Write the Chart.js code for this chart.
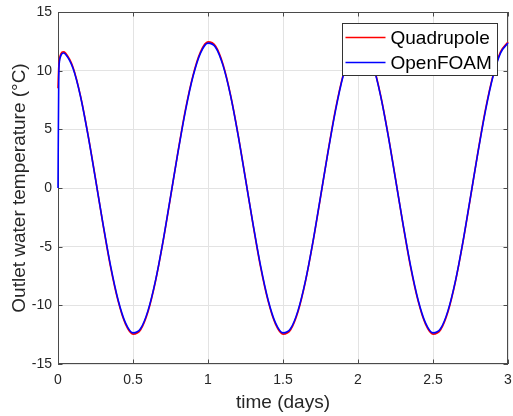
<!DOCTYPE html>
<html>
<head>
<meta charset="utf-8">
<script src="https://cdn.jsdelivr.net/npm/chart.js@4"></script>
<style>
  html, body { margin: 0; padding: 0; background: #fff; }
  canvas { display: block; }
</style>
</head>
<body>
<canvas id="chart" width="513" height="416"></canvas>
<script>
// dados
const timeDays = [0, 0.005, 0.01, 0.02, 0.035,
  0.05, 0.10, 0.15, 0.20, 0.25, 0.30, 0.35, 0.40, 0.45, 0.50,
  0.55, 0.60, 0.65, 0.70, 0.75, 0.80, 0.85, 0.90, 0.95, 1.00,
  1.05, 1.10, 1.15, 1.20, 1.25, 1.30, 1.35, 1.40, 1.45, 1.50,
  1.55, 1.60, 1.65, 1.70, 1.75, 1.80, 1.85, 1.90, 1.95, 2.00,
  2.05, 2.10, 2.15, 2.20, 2.25, 2.30, 2.35, 2.40, 2.45, 2.50,
  2.55, 2.60, 2.65, 2.70, 2.75, 2.80, 2.85, 2.90, 2.95, 3.00];

const quadrupole = [8.5, 10.3, 11.0, 11.45, 11.6,
  11.5, 10.3, 7.85, 4.55, 0.8, -3.1, -6.7, -9.6, -11.6, -12.45,
  -12.1, -10.55, -7.95, -4.6, -0.8, 3.1, 6.7, 9.6, 11.6, 12.45,
  12.1, 10.55, 7.95, 4.6, 0.8, -3.1, -6.7, -9.6, -11.6, -12.45,
  -12.1, -10.55, -7.95, -4.6, -0.8, 3.1, 6.7, 9.6, 11.6, 12.45,
  12.1, 10.55, 7.95, 4.6, 0.8, -3.1, -6.7, -9.6, -11.6, -12.45,
  -12.1, -10.55, -7.95, -4.6, -0.8, 3.1, 6.7, 9.6, 11.6, 12.45];

const openFoam = [0, 9.5, 10.8, 11.3, 11.5,
  11.4, 10.2, 7.8, 4.5, 0.75, -3.05, -6.6, -9.5, -11.5, -12.35,
  -12.0, -10.45, -7.9, -4.55, -0.75, 3.05, 6.6, 9.5, 11.5, 12.35,
  12.0, 10.45, 7.9, 4.55, 0.75, -3.05, -6.6, -9.5, -11.5, -12.35,
  -12.0, -10.45, -7.9, -4.55, -0.75, 3.05, 6.6, 9.5, 11.5, 12.35,
  12.0, 10.45, 7.9, 4.55, 0.75, -3.05, -6.6, -9.5, -11.5, -12.35,
  -12.0, -10.45, -7.9, -4.55, -0.75, 3.05, 6.6, 9.5, 11.5, 12.35];

const seriesNames = ['Quadrupole', 'OpenFOAM'];
const seriesColors = ['#ff0000', '#0000ff'];

const xTicks = [0, 0.5, 1, 1.5, 2, 2.5, 3];
const yTicks = [-15, -10, -5, 0, 5, 10, 15];

const axisColor = '#4a4a4a';
const textColor = '#262626';
const fontFamily = '"Liberation Sans", Arial, sans-serif';

function toPoints(values) {
  return values.map((v, i) => ({ x: timeDays[i], y: v }));
}

// caixa e ticks internos (antes das curvas) e legenda (depois)
const matlabFrame = {
  id: 'matlabFrame',
  beforeDatasetsDraw(chart) {
    const { ctx, chartArea: a, scales: { x, y } } = chart;
    ctx.save();
    ctx.strokeStyle = axisColor;
    ctx.lineWidth = 1;
    const tick = 4.5;
    ctx.beginPath();
    xTicks.forEach(v => {
      const px = Math.round(x.getPixelForValue(v)) + 0.5;
      ctx.moveTo(px, a.bottom); ctx.lineTo(px, a.bottom - tick);
      ctx.moveTo(px, a.top); ctx.lineTo(px, a.top + tick);
    });
    yTicks.forEach(v => {
      const py = Math.round(y.getPixelForValue(v)) + 0.5;
      ctx.moveTo(a.left, py); ctx.lineTo(a.left + tick, py);
      ctx.moveTo(a.right, py); ctx.lineTo(a.right - tick, py);
    });
    ctx.stroke();
    ctx.strokeRect(Math.round(a.left) + 0.5, Math.round(a.top) + 0.5,
      Math.round(a.right - a.left) - 1, Math.round(a.bottom - a.top) - 1);
    ctx.restore();
  },
  afterDatasetsDraw(chart) {
    const { ctx, chartArea: a } = chart;
    ctx.save();
    ctx.font = '19px ' + fontFamily;
    const textW = Math.max(...seriesNames.map(n => ctx.measureText(n).width));
    const lineLen = 40, gap = 5, padL = 3, padR = 6, rowH = 25;
    const w = Math.round(padL + lineLen + gap + textW + padR);
    const h = rowH * seriesNames.length + 2;
    const bx = Math.round(a.right - 11 - w) + 0.5;
    const by = Math.round(a.top + 11) + 0.5;
    ctx.fillStyle = '#fff';
    ctx.fillRect(bx, by, w, h);
    ctx.strokeStyle = '#333';
    ctx.lineWidth = 1;
    ctx.strokeRect(bx, by, w, h);
    ctx.textBaseline = 'middle';
    seriesNames.forEach((name, i) => {
      const cy = by + 14 + i * rowH;
      ctx.strokeStyle = seriesColors[i];
      ctx.lineWidth = 1.5;
      ctx.beginPath();
      ctx.moveTo(bx + padL, cy);
      ctx.lineTo(bx + padL + lineLen, cy);
      ctx.stroke();
      ctx.fillStyle = '#000';
      ctx.fillText(name, bx + padL + lineLen + gap, cy + 1);
    });
    ctx.restore();
  }
};

new Chart(document.getElementById('chart'), {
  type: 'line',
  data: {
    datasets: [
      {
        label: seriesNames[0],
        data: toPoints(quadrupole),
        borderColor: seriesColors[0],
        borderWidth: 1.6,
        pointRadius: 0,
        cubicInterpolationMode: 'monotone',
        clip: 3,
        order: 2
      },
      {
        label: seriesNames[1],
        data: toPoints(openFoam),
        borderColor: seriesColors[1],
        borderWidth: 1.6,
        pointRadius: 0,
        cubicInterpolationMode: 'monotone',
        clip: 3,
        order: 1
      }
    ]
  },
  options: {
    responsive: false,
    animation: false,
    devicePixelRatio: 1,
    layout: { padding: { left: 0, right: 5, top: 12, bottom: 0 } },
    plugins: { legend: { display: false }, tooltip: { enabled: false } },
    scales: {
      x: {
        type: 'linear',
        min: 0,
        max: 3,
        afterFit: s => { s.height = 52; s.paddingLeft = 0; s.paddingRight = 0; },
        afterBuildTicks: s => { s.ticks = xTicks.map(v => ({ value: v })); },
        grid: { color: '#e3e3e3', drawTicks: false },
        border: { display: false },
        ticks: {
          padding: 8,
          color: textColor,
          font: { size: 14, family: fontFamily },
          maxRotation: 0,
          callback: v => String(v)
        },
        title: {
          display: true,
          text: 'time (days)',
          color: textColor,
          font: { size: 19, family: fontFamily },
          padding: { top: 0, bottom: 2 }
        }
      },
      y: {
        type: 'linear',
        min: -15,
        max: 15,
        afterFit: s => { s.width = 58; s.paddingTop = 0; s.paddingBottom = 0; },
        afterBuildTicks: s => { s.ticks = yTicks.map(v => ({ value: v })); },
        grid: { color: '#e3e3e3', drawTicks: false },
        border: { display: false },
        ticks: {
          padding: 6,
          color: textColor,
          font: { size: 14, family: fontFamily },
          callback: v => String(v)
        },
        title: {
          display: true,
          text: 'Outlet water temperature (°C)',
          color: textColor,
          font: { size: 19, family: fontFamily },
          padding: { top: 8, bottom: 0 }
        }
      }
    }
  },
  plugins: [matlabFrame]
});
</script>
</body>
</html>
